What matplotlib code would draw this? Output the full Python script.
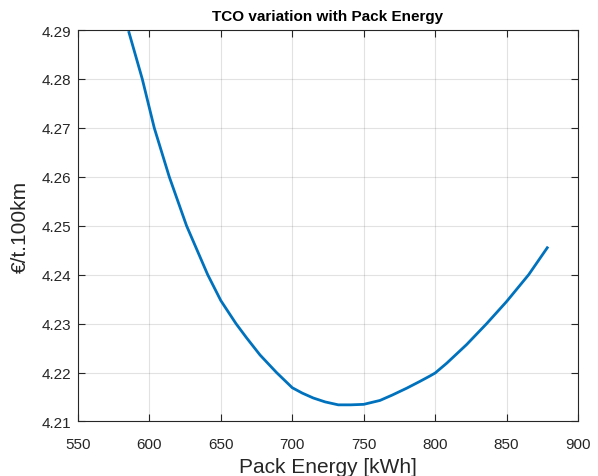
import matplotlib
matplotlib.use("Agg")
import matplotlib.pyplot as plt

plt.rcParams['font.family'] = ['Liberation Sans', 'DejaVu Sans']

# values
pack_energy = [585.7, 595.0, 603.4, 613.9, 626.0, 640.8, 650.0, 660.6, 668.0,
               677.4, 689.0, 700.0, 707.0, 714.7, 723.0, 732.2, 741.0, 750.0,
               761.4, 770.0, 780.1, 789.4, 796.4, 800.0, 808.1, 822.0, 836.1,
               850.0, 865.5, 878.5]
tco = [4.2895, 4.2800, 4.2700, 4.2600, 4.2500, 4.2400, 4.2347, 4.2300, 4.2271,
       4.2236, 4.2200, 4.2169, 4.2158, 4.2148, 4.2140, 4.2134, 4.2134, 4.2135,
       4.2143, 4.2154, 4.2168, 4.2182, 4.2193, 4.2199, 4.2219, 4.2257, 4.2300,
       4.2345, 4.2400, 4.2455]

xticks = [550, 600, 650, 700, 750, 800, 850, 900]
yticks = [4.21, 4.22, 4.23, 4.24, 4.25, 4.26, 4.27, 4.28, 4.29]

fig = plt.figure(figsize=(5.98, 4.77), dpi=100)
ax = fig.add_axes([0.1304, 0.1143, 0.8361, 0.8207])

ax.plot(pack_energy, tco, color='#0072BD', linewidth=2.0)

ax.set_xlim(550, 900)
ax.set_ylim(4.21, 4.29)
ax.set_xticks(xticks)
ax.set_yticks(yticks)
ax.set_yticklabels(['%.2f' % v for v in yticks])
ax.grid(True, color='#262626', alpha=0.13, linewidth=0.8)
ax.tick_params(direction='in', top=True, right=True, length=5, width=0.8,
               colors='#262626', labelsize=11)
ax.tick_params(axis='x', pad=11.5)
ax.tick_params(axis='y', pad=5)
for s in ax.spines.values():
    s.set_color('#262626')
    s.set_linewidth(0.8)

ax.set_xlabel('Pack Energy [kWh]', fontsize=15, color='#262626', labelpad=4)
ax.set_ylabel('€/t.100km', fontsize=15, color='#262626', labelpad=8)
ax.set_title('TCO variation with Pack Energy', fontsize=11, fontweight='bold',
             color='black', pad=7)

fig.savefig('out.png', dpi=100)
